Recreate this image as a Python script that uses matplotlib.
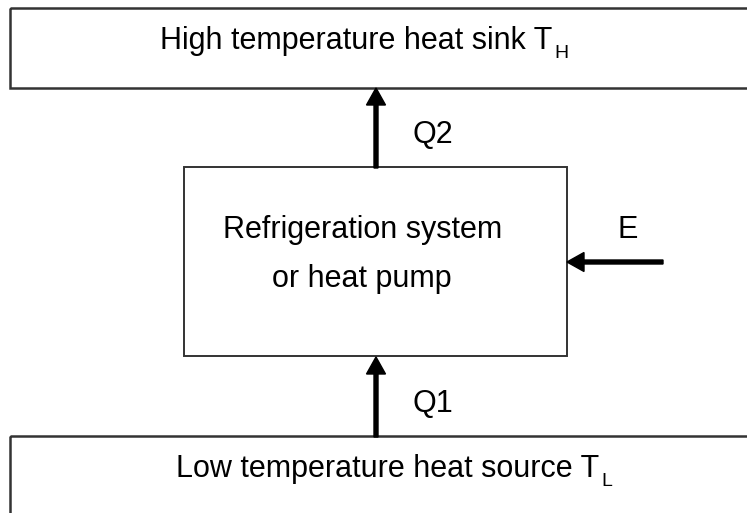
import matplotlib.pyplot as plt
from matplotlib.patches import Rectangle

plt.rcParams['font.family'] = ['Liberation Sans', 'DejaVu Sans']

# labels of the diagram
top_label = "High temperature heat sink T"
top_sub = "H"
bottom_label = "Low temperature heat source T"
bottom_sub = "L"
middle_lines = ["Refrigeration system", "or heat pump"]
flow_labels = ["Q2", "Q1", "E"]

W, H = 747, 513
fig = plt.figure(figsize=(W / 100, H / 100), dpi=100)
ax = fig.add_axes([0, 0, 1, 1])
ax.set_xlim(0, W)
ax.set_ylim(H, 0)
ax.axis("off")

edge = "#333333"
fs = 22

# boxes (top and bottom run off the picture)
ax.add_patch(Rectangle((10, 8), 800, 80, fill=False, ec=edge, lw=1.8))
ax.add_patch(Rectangle((184, 167), 383, 189, fill=False, ec=edge, lw=1.4))
ax.add_patch(Rectangle((10, 436), 800, 200, fill=False, ec=edge, lw=1.8))

# texts
ax.text(160, 49, top_label, fontsize=fs, va="baseline", ha="left")
ax.text(554, 58, top_sub, fontsize=14, va="baseline", ha="left")
ax.text(176, 477, bottom_label, fontsize=fs, va="baseline", ha="left")
ax.text(601, 486, bottom_sub, fontsize=14, va="baseline", ha="left")
ax.text(363, 238, middle_lines[0], fontsize=fs, va="baseline", ha="center")
ax.text(362, 287, middle_lines[1], fontsize=fs, va="baseline", ha="center")
ax.text(433, 143, flow_labels[0], fontsize=fs, va="baseline", ha="center")
ax.text(433, 412, flow_labels[1], fontsize=fs, va="baseline", ha="center")
ax.text(628, 238, flow_labels[2], fontsize=fs, va="baseline", ha="center")

# arrows
akw = dict(width=4, head_width=19, head_length=17, length_includes_head=True,
           fc="black", ec="black")
ax.arrow(376, 168, 0, -80, **akw)
ax.arrow(376, 437, 0, -80, **akw)
ax.arrow(663, 262, -96, 0, **akw)

plt.savefig("out.png", dpi=100)
